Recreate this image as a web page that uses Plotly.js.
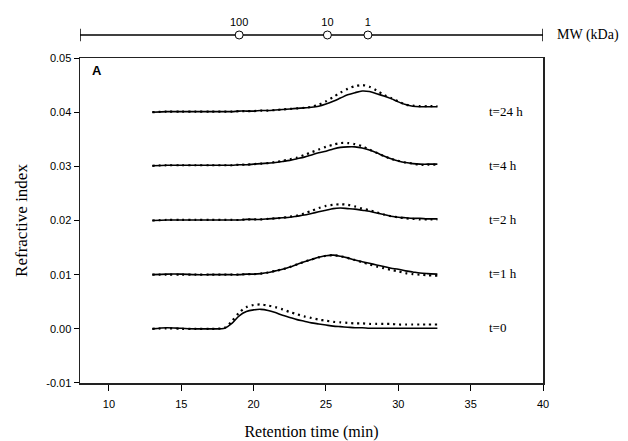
<!DOCTYPE html>
<html>
<head>
<meta charset="utf-8">
<script src="https://cdn.plot.ly/plotly-3.0.1.min.js"></script>
<style>html,body{margin:0;padding:0;background:#fff;}#chart{width:628px;height:441px;}</style>
</head>
<body>
<div id="chart"></div>
<script>
// Retention time sample points (min)
var retentionTime = [13, 14, 15, 16, 17, 18, 18.5, 19, 19.5, 20, 20.5, 21, 21.5, 22, 22.5, 23, 23.5, 24, 24.5, 25, 25.5, 26, 26.5, 27, 27.5, 28, 28.5, 29, 29.5, 30, 30.5, 31, 31.5, 32, 32.7];

// Series labels and baselines
var seriesLabels = ["t=24 h", "t=4 h", "t=2 h", "t=1 h", "t=0"];
var baselines = [0.04, 0.03, 0.02, 0.01, 0.00];

// Solid curves
var solid_t24 = [0.0400, 0.0401, 0.0401, 0.0401, 0.0401, 0.0401, 0.0401, 0.0402, 0.0402, 0.0402, 0.0403, 0.0403, 0.0404, 0.0405, 0.0406, 0.0407, 0.0408, 0.0409, 0.0411, 0.0415, 0.0420, 0.0426, 0.0432, 0.0436, 0.0439, 0.0438, 0.0434, 0.0430, 0.0425, 0.0419, 0.0414, 0.0411, 0.0410, 0.0410, 0.0410];
var solid_t4  = [0.0301, 0.0302, 0.0302, 0.0302, 0.0302, 0.0302, 0.0302, 0.0303, 0.0303, 0.0304, 0.0305, 0.0306, 0.0307, 0.0309, 0.0311, 0.0314, 0.0317, 0.0321, 0.0325, 0.0328, 0.0332, 0.0335, 0.0336, 0.0336, 0.0334, 0.0330, 0.0325, 0.0319, 0.0314, 0.0310, 0.0307, 0.0305, 0.0304, 0.0304, 0.0304];
var solid_t2  = [0.0200, 0.0201, 0.0201, 0.0201, 0.0201, 0.0201, 0.0201, 0.0201, 0.0202, 0.0202, 0.0202, 0.0203, 0.0204, 0.0205, 0.0206, 0.0208, 0.0210, 0.0213, 0.0216, 0.0219, 0.0222, 0.0223, 0.0222, 0.0221, 0.0219, 0.0217, 0.0214, 0.0211, 0.0208, 0.0206, 0.0205, 0.0204, 0.0204, 0.0203, 0.0203];
var solid_t1  = [0.0100, 0.0101, 0.0101, 0.0100, 0.0100, 0.0100, 0.0100, 0.0100, 0.0101, 0.0101, 0.0102, 0.0104, 0.0107, 0.0110, 0.0114, 0.0119, 0.0124, 0.0128, 0.0132, 0.0135, 0.0136, 0.0134, 0.0131, 0.0127, 0.0124, 0.0121, 0.0118, 0.0115, 0.0112, 0.0110, 0.0107, 0.0105, 0.0103, 0.0102, 0.0101];
var solid_t0  = [0.0000, 0.0002, 0.0001, 0.0000, 0.0000, 0.0001, 0.0010, 0.0024, 0.0032, 0.0035, 0.0036, 0.0034, 0.0030, 0.0025, 0.0021, 0.0017, 0.0014, 0.0011, 0.0009, 0.0007, 0.0005, 0.0004, 0.0003, 0.0002, 0.0002, 0.0001, 0.0001, 0.0001, 0.0001, 0.0001, 0.0001, 0.0001, 0.0001, 0.0001, 0.0001];

// Dotted curves
var dotted_t24 = [0.0400, 0.0401, 0.0401, 0.0401, 0.0401, 0.0401, 0.0401, 0.0402, 0.0402, 0.0402, 0.0403, 0.0403, 0.0404, 0.0405, 0.0406, 0.0407, 0.0408, 0.0410, 0.0414, 0.0420, 0.0428, 0.0436, 0.0443, 0.0448, 0.0450, 0.0447, 0.0440, 0.0432, 0.0426, 0.0420, 0.0414, 0.0412, 0.0411, 0.0411, 0.0411];
var dotted_t4  = [0.0301, 0.0302, 0.0302, 0.0302, 0.0302, 0.0302, 0.0302, 0.0303, 0.0303, 0.0304, 0.0305, 0.0306, 0.0308, 0.0310, 0.0313, 0.0316, 0.0321, 0.0326, 0.0331, 0.0336, 0.0340, 0.0343, 0.0343, 0.0341, 0.0337, 0.0331, 0.0325, 0.0319, 0.0314, 0.0310, 0.0307, 0.0305, 0.0303, 0.0303, 0.0303];
var dotted_t2  = [0.0200, 0.0201, 0.0201, 0.0201, 0.0201, 0.0201, 0.0201, 0.0201, 0.0202, 0.0202, 0.0202, 0.0203, 0.0204, 0.0205, 0.0207, 0.0209, 0.0213, 0.0218, 0.0223, 0.0227, 0.0229, 0.0230, 0.0229, 0.0226, 0.0222, 0.0219, 0.0215, 0.0211, 0.0208, 0.0206, 0.0204, 0.0203, 0.0202, 0.0202, 0.0202];
var dotted_t1  = [0.0100, 0.0100, 0.0100, 0.0100, 0.0100, 0.0100, 0.0100, 0.0100, 0.0101, 0.0101, 0.0102, 0.0104, 0.0107, 0.0110, 0.0114, 0.0119, 0.0124, 0.0128, 0.0132, 0.0135, 0.0136, 0.0134, 0.0131, 0.0127, 0.0123, 0.0119, 0.0115, 0.0112, 0.0109, 0.0106, 0.0103, 0.0101, 0.0100, 0.0099, 0.0098];
var dotted_t0  = [0.0000, 0.0001, 0.0000, 0.0000, 0.0000, 0.0002, 0.0014, 0.0030, 0.0040, 0.0044, 0.0045, 0.0043, 0.0040, 0.0036, 0.0031, 0.0027, 0.0023, 0.0020, 0.0017, 0.0015, 0.0013, 0.0012, 0.0011, 0.0010, 0.0010, 0.0009, 0.0009, 0.0009, 0.0009, 0.0008, 0.0008, 0.0008, 0.0008, 0.0008, 0.0008];

// Molecular weight scale (top axis)
var mwLabels = ["100", "10", "1"];
var mwRetention = [19.0, 25.1, 27.9];

// Axis ticks
var yTicks = [-0.01, 0.00, 0.01, 0.02, 0.03, 0.04, 0.05];
var xTicks = [10, 15, 20, 25, 30, 35, 40];

var SERIF = 'Liberation Serif';
var SANS = 'Liberation Sans';

var solidSeries = [solid_t24, solid_t4, solid_t2, solid_t1, solid_t0];
var dottedSeries = [dotted_t24, dotted_t4, dotted_t2, dotted_t1, dotted_t0];

var traces = [];
for (var i = 0; i < solidSeries.length; i++) {
  traces.push({
    x: retentionTime, y: dottedSeries[i], type: 'scatter', mode: 'lines',
    line: {color: '#000', width: 2.2, dash: '2px,4px', shape: 'spline', smoothing: 0.8},
    hoverinfo: 'skip', showlegend: false
  });
  traces.push({
    x: retentionTime, y: solidSeries[i], type: 'scatter', mode: 'lines',
    line: {color: '#000', width: 1.6, shape: 'spline', smoothing: 0.8},
    hoverinfo: 'skip', showlegend: false
  });
}

// MW scale line and markers
traces.push({
  x: [8, 40], y: [0.5, 0.5], xaxis: 'x', yaxis: 'y2', type: 'scatter', mode: 'lines',
  line: {color: '#000', width: 1.5}, hoverinfo: 'skip', showlegend: false, cliponaxis: false
});
traces.push({
  x: mwRetention, y: mwLabels.map(function(){return 0.5;}), xaxis: 'x', yaxis: 'y2',
  type: 'scatter', mode: 'markers+text', text: mwLabels, textposition: 'top center',
  textfont: {family: SANS, size: 11, color: '#000'},
  marker: {symbol: 'circle', size: 8, color: '#fff', line: {color: '#000', width: 1}},
  hoverinfo: 'skip', showlegend: false, cliponaxis: false
});

var annotations = [];
for (var j = 0; j < seriesLabels.length; j++) {
  annotations.push({
    x: 36.1, y: baselines[j] + 0.0002, xref: 'x', yref: 'y', text: seriesLabels[j],
    showarrow: false, xanchor: 'left', yanchor: 'middle',
    font: {family: SERIF, size: 13, color: '#000'}
  });
}
annotations.push({
  x: 0.037, y: 0.862, xref: 'paper', yref: 'paper', text: '<b>A</b>', showarrow: false,
  xanchor: 'center', yanchor: 'middle',
  font: {family: SANS, size: 13, color: '#000'}
});
annotations.push({
  x: 1.025, y: 0.9587, xref: 'paper', yref: 'paper', text: 'MW (kDa)', showarrow: false,
  xanchor: 'left', yanchor: 'middle',
  font: {family: SERIF, size: 14, color: '#000'}
});

var layout = {
  width: 628, height: 441,
  margin: {l: 80, r: 85, t: 20, b: 58},
  paper_bgcolor: '#fff', plot_bgcolor: '#fff',
  showlegend: false,
  font: {family: SANS, color: '#000'},
  xaxis: {
    range: [8, 40], tickvals: xTicks, ticktext: xTicks.map(String),
    ticks: 'outside', ticklen: 6, tickwidth: 1, tickcolor: '#000',
    ticklabelstandoff: 4,
    showline: true, linecolor: '#222', linewidth: 1.5, mirror: true,
    showgrid: false, zeroline: false,
    tickfont: {family: SANS, size: 11, color: '#000'},
    title: {text: 'Retention time (min)', standoff: 20,
      font: {family: SERIF, size: 16, color: '#000'}}
  },
  yaxis: {
    domain: [0, 0.8953], range: [-0.01, 0.05], tickvals: yTicks,
    ticktext: yTicks.map(function(v){return v.toFixed(2);}),
    ticks: 'outside', ticklen: 5, tickwidth: 1, tickcolor: '#000',
    showline: true, linecolor: '#222', linewidth: 1.5, mirror: true,
    showgrid: false, zeroline: false,
    tickfont: {family: SANS, size: 11, color: '#000'},
    title: {text: 'Refractive index', standoff: 14,
      font: {family: SERIF, size: 17, color: '#000'}}
  },
  yaxis2: {
    domain: [0.93, 0.9874], range: [0, 1], anchor: 'x',
    showline: false, showgrid: false, zeroline: false, showticklabels: false, ticks: ''
  },
  shapes: [
    {type: 'line', xref: 'x', yref: 'y2', x0: 8, x1: 8, y0: 0.2, y1: 0.8, line: {color: '#000', width: 1.5}},
    {type: 'line', xref: 'x', yref: 'y2', x0: 40, x1: 40, y0: 0.2, y1: 0.8, line: {color: '#000', width: 1.5}}
  ],
  annotations: annotations
};

Plotly.newPlot('chart', traces, layout, {displayModeBar: false, staticPlot: true});
</script>
</body>
</html>
